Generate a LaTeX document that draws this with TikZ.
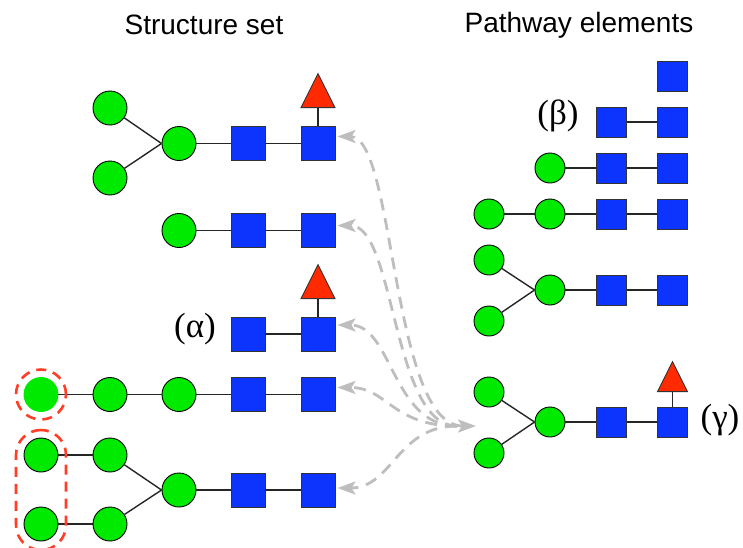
\documentclass[tikz,border=0pt]{standalone}
\usepackage{fontspec}
\setmainfont{Liberation Serif}
\newfontfamily\titlefont{Liberation Sans}
\usetikzlibrary{shapes.geometric,arrows.meta,calc}

\definecolor{glcgreen}{RGB}{0,234,0}
\definecolor{glcblue}{RGB}{12,52,252}
\definecolor{glcred}{RGB}{255,42,0}
\definecolor{markred}{RGB}{255,62,40}
\definecolor{mapgray}{RGB}{190,190,190}

\tikzset{
  gcL/.style={circle, draw=black, fill=glcgreen, line width=0.9pt, minimum size=34pt, inner sep=0pt},
  sqL/.style={rectangle, draw=black!80, fill=glcblue, line width=0.9pt, minimum size=34pt, inner sep=0pt},
  trL/.style={isosceles triangle, isosceles triangle stretches, shape border rotate=90,
              draw=black!80, fill=glcred, line width=0.9pt, minimum width=34pt, minimum height=34pt,
              inner sep=0pt, anchor=lower side},
  gcR/.style={gcL, minimum size=30pt},
  sqR/.style={sqL, minimum size=30pt},
  trR/.style={trL, minimum width=30pt, minimum height=30pt},
  bond/.style={line width=1.4pt, black!85},
  title/.style={font=\titlefont\fontsize{28}{32}\selectfont},
  tag/.style={font=\fontsize{35}{37}\selectfont},
  ring/.style={draw=markred, line width=2.6pt, dash pattern=on 10pt off 7pt},
  maptip/.tip={Stealth[length=18pt,width=13pt,inset=4pt]},
  map/.style={mapgray, line width=2.8pt, dash pattern=on 12pt off 8pt, -maptip}
}

\begin{document}
\begin{tikzpicture}[x=1pt,y=-1pt]
\useasboundingbox (0,0) rectangle (743,547);

% column headings
\node[title] (ttlS) at (204,25) {Structure set};
\node[title] (ttlP) at (579,25) {Pathway elements};

% ---------------- structure set ----------------
% first structure
\node[gcL] (a1) at (110,108) {};
\node[gcL] (a2) at (110,178) {};
\node[gcL] (a3) at (179,143.5) {};
\node[sqL] (a4) at (248,143.5) {};
\node[sqL] (a5) at (318,143.5) {};
\node[trL] (a6) at (318,108) {};
\draw[bond] (a1) -- (a3.west);
\draw[bond] (a2) -- (a3.west);
\draw[bond] (a3) -- (a4);
\draw[bond] (a4) -- (a5);
\draw[bond] (a5) -- (a6.lower side);

% second structure
\node[gcL] (b1) at (179,230.5) {};
\node[sqL] (b2) at (248,230.5) {};
\node[sqL] (b3) at (318,230.5) {};
\draw[bond] (b1) -- (b2);
\draw[bond] (b2) -- (b3);

% third structure
\node[tag] (lbA) at (195,329) {(α)};
\node[sqL] (c1) at (248,334) {};
\node[sqL] (c2) at (318,334) {};
\node[trL] (c3) at (318,299) {};
\draw[bond] (c1) -- (c2);
\draw[bond] (c2) -- (c3.lower side);

% fourth structure
\node[gcL, draw=glcgreen] (d0) at (41,394.5) {};
\node[gcL] (d1) at (110,394.5) {};
\node[gcL] (d2) at (179,394.5) {};
\node[sqL] (d3) at (248,394.5) {};
\node[sqL] (d4) at (318,394.5) {};
\draw[bond] (d0) -- (d1);
\draw[bond] (d1) -- (d2);
\draw[bond] (d2) -- (d3);
\draw[bond] (d3) -- (d4);
\node[ring, circle, minimum size=50pt, inner sep=0pt] (mk1) at (d0) {};

% fifth structure
\node[gcL] (e1) at (41,455) {};
\node[gcL] (e2) at (41,524) {};
\node[gcL] (e3) at (110,455) {};
\node[gcL] (e4) at (110,524) {};
\node[gcL] (e5) at (179,490) {};
\node[sqL] (e6) at (248,490) {};
\node[sqL] (e7) at (318,490) {};
\draw[bond] (e1) -- (e3);
\draw[bond] (e2) -- (e4);
\draw[bond] (e3) -- (e5.west);
\draw[bond] (e4) -- (e5.west);
\draw[bond] (e5) -- (e6);
\draw[bond] (e6) -- (e7);
\node[ring, rectangle, rounded corners=25pt, minimum width=50pt, minimum height=120pt, inner sep=0pt] (mk2) at (41,490) {};

% ---------------- pathway elements ----------------
\node[sqR] (p0) at (672.5,76) {};

\node[tag] (lbB) at (558,116) {(β)};
\node[sqR] (q1) at (611.5,122) {};
\node[sqR] (q2) at (672.5,122) {};
\draw[bond] (q1) -- (q2);

\node[gcR] (r1) at (550,168) {};
\node[sqR] (r2) at (611.5,168) {};
\node[sqR] (r3) at (672.5,168) {};
\draw[bond] (r1) -- (r2);
\draw[bond] (r2) -- (r3);

\node[gcR] (s1) at (489,214) {};
\node[gcR] (s2) at (550,214) {};
\node[sqR] (s3) at (611.5,214) {};
\node[sqR] (s4) at (672.5,214) {};
\draw[bond] (s1) -- (s2);
\draw[bond] (s2) -- (s3);
\draw[bond] (s3) -- (s4);

\node[gcR] (t1) at (489,260) {};
\node[gcR] (t2) at (489,321) {};
\node[gcR] (t3) at (550,290) {};
\node[sqR] (t4) at (611.5,290) {};
\node[sqR] (t5) at (672.5,290) {};
\draw[bond] (t1) -- (t3.west);
\draw[bond] (t2) -- (t3.west);
\draw[bond] (t3) -- (t4);
\draw[bond] (t4) -- (t5);

\node[gcR] (u1) at (489,392) {};
\node[gcR] (u2) at (489,453) {};
\node[gcR] (u3) at (550,422) {};
\node[sqR] (u4) at (611.5,422) {};
\node[sqR] (u5) at (672.5,422) {};
\node[trR] (u6) at (672.5,392) {};
\node[tag] (lbG) at (720,420) {(γ)};
\draw[bond] (u1) -- (u3.west);
\draw[bond] (u2) -- (u3.west);
\draw[bond] (u3) -- (u4);
\draw[bond] (u4) -- (u5);
\draw[bond] (u5) -- (u6.lower side);

% ---------------- mapping arrows ----------------
\coordinate (hubtip) at (476,426);
\coordinate (hub) at (457,426);
\draw[map, maptip-maptip]
  (hubtip) .. controls +(-85,0) and +(58,0) .. ($(a5.east)+(2,-7)$);
\draw[map] (hub) .. controls +(-65,0) and +(58,0) .. ($(b3.east)+(2,-5)$);
\draw[map] (hub) .. controls +(-65,0) and +(55,0) .. ($(c2.east)+(2,-9)$);
\draw[map] (hub) .. controls +(-65,0) and +(50,0) .. ($(d4.east)+(2,-7)$);
\draw[map] (hub) .. controls +(-60,0) and +(55,0) .. ($(e7.east)+(2,-2)$);
\end{tikzpicture}
\end{document}
